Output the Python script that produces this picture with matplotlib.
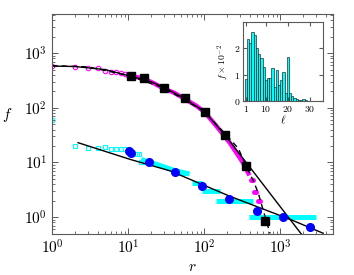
import numpy as np
import matplotlib
matplotlib.use('Agg')
import matplotlib.pyplot as plt
from matplotlib.ticker import FixedLocator, LogLocator, FuncFormatter, NullFormatter

plt.rcParams['mathtext.fontset'] = 'cm'
plt.rcParams['font.family'] = ['DejaVu Serif']

# upper set: open magenta circles (single points) and dense part
mag_r = [1, 2, 3, 4, 5, 6, 7, 8, 9]
mag_f = [580, 562, 525, 525, 470, 455, 445, 425, 408]
mag_band_r = [10, 16, 22, 30, 40, 56, 80, 103, 150, 220, 270, 330, 384]
mag_band_f = [390, 345, 280, 222, 190, 145, 108, 82, 44, 22.5, 14.7, 9.6, 6.3]
mag_run_f = [4.8, 2.9, 2.0]
mag_run_r0 = [412, 455, 520]
mag_run_r1 = [440, 482, 552]

# upper set: binned black squares
sq_r = [11, 16.4, 30, 56, 103, 189, 353, 632]
sq_f = [385, 350, 226, 148, 84, 31.6, 8.7, 0.86]

# lower set: open cyan squares and flat runs
cy_r = [1, 2, 3, 4, 5, 6, 7, 8, 9, 13, 14, 15, 16]
cy_f = [60, 20.3, 18.1, 18.1, 18.9, 17.3, 17.3, 17.3, 17.3, 14.3, 14.3, 10.3, 10.3]
cy_band_r = [16, 25, 40, 60]
cy_band_f = [11, 9, 7.2, 6.3]
run_f = [6.3, 4.15, 3.0, 2.0, 1.0]
run_r0 = [40, 69, 93, 142, 390]
run_r1 = [59, 95, 162, 446, 2970]

# lower set: binned blue circles
bc_r = [10.2, 11, 19, 42, 95, 215, 493, 1106, 2483]
bc_f = [16, 15, 10, 6.8, 3.7, 2.1, 1.31, 0.99, 0.65]

# fitted curves
fit_up_r = [1, 2, 5, 10, 20, 30, 50, 100, 189, 500, 1000, 2000]
fit_up_f = [580, 570, 500, 390, 300, 235, 160, 87, 31.6, 5.5, 1.57, 0.45]
dash_r = [1, 3, 10, 30, 100, 200, 283, 353, 450, 520, 604, 740]
dash_f = [590, 560, 390, 230, 86, 31, 18, 9, 4.5, 2.7, 1.3, 0.5]
fit_lo_r = [2.2, 10.6, 36, 215, 1426, 3700]
fit_lo_f = [23, 11.4, 7.0, 2.43, 0.885, 0.506]

# inset histogram
ell = list(range(1, 29))
hist = [0.85, 2.35, 2.2, 2.63, 2.5, 2.0, 1.78, 1.62, 1.3, 0.78, 0.87, 0.87, 1.25, 0.53,
        1.17, 0.6, 0.78, 1.1, 0.3, 1.68, 0.3, 0.2, 0.1, 0.08, 0.05, 0.03, 0.07, 0.02]

fig = plt.figure(figsize=(3.54, 2.75), dpi=100)
ax = fig.add_axes([0.147, 0.149, 0.794, 0.8])

for r0, r1, f in zip(run_r0, run_r1, run_f):
    ax.plot([r0, r1], [f, f], color='cyan', lw=3.6, solid_capstyle='butt', zorder=1)
ax.plot(cy_band_r, cy_band_f, color='cyan', lw=3.6, zorder=1)
ax.plot(cy_r, cy_f, 's', mfc='none', mec='cyan', ms=3.2, mew=0.8, zorder=1)

ax.plot(mag_band_r, mag_band_f, color='magenta', lw=3.2, zorder=1)
for r0, r1, f in zip(mag_run_r0, mag_run_r1, mag_run_f):
    ax.plot([r0, r1], [f, f], color='magenta', lw=3.6, solid_capstyle='round', zorder=1)
ax.plot(mag_r, mag_f, 'o', mfc='none', mec='magenta', ms=3.2, mew=0.8, zorder=1)

ax.plot(fit_up_r, fit_up_f, color='black', lw=1, zorder=2)
ax.plot(dash_r, dash_f, color='black', lw=1, ls=(0, (4, 3)), zorder=2)
ax.plot(fit_lo_r, fit_lo_f, color='black', lw=1, zorder=2)

ax.plot(sq_r, sq_f, 's', color='black', ms=5.5, zorder=3)
ax.plot(bc_r, bc_f, 'o', color='blue', ms=5.5, zorder=3)

ax.set_xscale('log')
ax.set_yscale('log')
ax.set_xlim(1, 5000)
ax.set_ylim(0.49, 5200)
logfmt = FuncFormatter(lambda v, p: r'$10^{%d}$' % round(np.log10(v)))
ax.xaxis.set_major_locator(LogLocator(base=10, numticks=10))
ax.yaxis.set_major_locator(LogLocator(base=10, numticks=10))
ax.xaxis.set_major_formatter(logfmt)
ax.yaxis.set_major_formatter(logfmt)
ax.xaxis.set_minor_formatter(NullFormatter())
ax.yaxis.set_minor_formatter(NullFormatter())
ax.tick_params(which='both', direction='in', top=True, right=True, color='0.35', labelsize=11)
ax.tick_params(which='major', length=4, width=0.7)
ax.tick_params(which='minor', length=2, width=0.6)
for s in ax.spines.values():
    s.set_color('0.35')
    s.set_linewidth(0.8)
ax.set_xlabel('$r$', fontsize=11, labelpad=2)
ax.set_ylabel('$f$', fontsize=11, rotation=0, labelpad=12)

ins = fig.add_axes([0.686, 0.633, 0.226, 0.287])
ins.bar(ell, hist, width=1, color='cyan', edgecolor='black', linewidth=0.4)
ins.set_xlim(-0.4, 35.8)
ins.set_ylim(0, 3)
ins.xaxis.set_major_locator(FixedLocator([1, 10, 20, 30]))
ins.yaxis.set_major_locator(FixedLocator([0, 1, 2]))
ins.set_xticklabels(['$1$', '$10$', '$20$', '$30$'])
ins.set_yticklabels(['$0$', '$1$', '$2$'])
ins.tick_params(direction='in', top=True, right=True, color='0.35', labelsize=7, length=3, pad=2)
for s in ins.spines.values():
    s.set_color('0.35')
    s.set_linewidth(0.8)
ins.set_xlabel(r'$\ell$', fontsize=8, labelpad=0)
ins.set_ylabel(r'$f\times10^{-2}$', fontsize=7, labelpad=2)

fig.savefig('out.png', dpi=100)
